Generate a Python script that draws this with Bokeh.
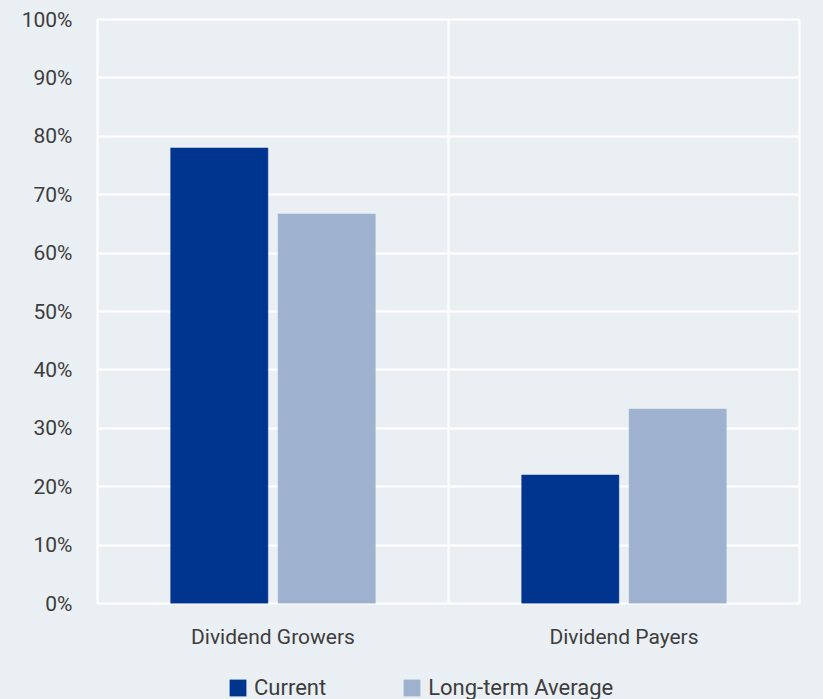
from bokeh.plotting import figure
from bokeh.layouts import column
from bokeh.models import FixedTicker, NumeralTickFormatter, Legend, LegendItem, Range1d
from bokeh.embed import file_html
from bokeh.resources import INLINE

# Share of stocks in each group
categories = ["Dividend Growers", "Dividend Payers"]
current = [0.78, 0.22]
long_term_average = [0.667, 0.333]
series_names = ["Current", "Long-term Average"]
y_ticks = [0.0, 0.1, 0.2, 0.3, 0.4, 0.5, 0.6, 0.7, 0.8, 0.9, 1.0]

BG = "#eaeff4"
DARK = "#00358f"
LIGHT = "#9eb2cf"
TEXT = "#3d3d3d"
FONT = "Roboto"

W = 823
LEGEND_H = 40

p = figure(
    width=W, height=699 - LEGEND_H,
    x_range=Range1d(0, len(categories)), y_range=Range1d(0, 1),
    output_backend="svg", toolbar_location=None,
    min_border_left=97, min_border_right=24, min_border_top=19, min_border_bottom=56,
)
p.background_fill_color = BG
p.border_fill_color = BG
# white frame edges stand in for the outer grid lines
p.outline_line_color = "white"
p.outline_line_width = 2

# bar geometry within each category slot
bar_w = 0.277
offset = 0.153
centers = [i + 0.5 for i in range(len(categories))]
x_cur = [c - offset for c in centers]
x_lta = [c + offset for c in centers]
p.vbar(x=x_cur, top=current, width=bar_w,
       fill_color=DARK, line_color=DARK, line_width=0.5)
p.vbar(x=x_lta, top=long_term_average, width=bar_w,
       fill_color=LIGHT, line_color=LIGHT, line_width=0.5)

# y axis: percent labels, no line or ticks
p.yaxis.ticker = FixedTicker(ticks=y_ticks)
p.yaxis.formatter = NumeralTickFormatter(format="0%")
p.yaxis.axis_line_color = None
p.yaxis.major_tick_line_color = None
p.yaxis.major_tick_out = 0
p.yaxis.minor_tick_line_color = None
p.yaxis.minor_tick_out = 0
p.yaxis.major_label_text_font = FONT
p.yaxis.major_label_text_font_size = "21px"
p.yaxis.major_label_text_color = TEXT
p.yaxis.major_label_standoff = 25

# x axis: category names centred in their slots
p.xaxis.ticker = FixedTicker(ticks=centers)
p.xaxis.major_label_overrides = {c: name for c, name in zip(centers, categories)}
p.xaxis.axis_line_color = None
p.xaxis.major_tick_line_color = None
p.xaxis.major_tick_out = 0
p.xaxis.minor_tick_line_color = None
p.xaxis.minor_tick_out = 0
p.xaxis.major_label_text_font = FONT
p.xaxis.major_label_text_font_size = "21px"
p.xaxis.major_label_text_color = TEXT
p.xaxis.major_label_standoff = 21

# white grid: horizontal at each tick, vertical between the slots
p.ygrid.ticker = FixedTicker(ticks=y_ticks)
p.ygrid.grid_line_color = "white"
p.ygrid.grid_line_width = 2
p.xgrid.ticker = FixedTicker(ticks=list(range(len(categories) + 1)))
p.xgrid.grid_line_color = "white"
p.xgrid.grid_line_width = 2

# legend strip underneath the chart; its swatches come from flat (zero-height)
# copies of the series, so nothing is visible in the strip besides the legend
q = figure(
    width=W, height=LEGEND_H, x_range=p.x_range, y_range=Range1d(0, 1),
    x_axis_type=None, y_axis_type=None,
    output_backend="svg", toolbar_location=None,
    min_border_left=97, min_border_right=24, min_border_top=0, min_border_bottom=0,
)
q.background_fill_alpha = 0
q.border_fill_color = BG
q.outline_line_color = None
q.grid.visible = False
k_cur = q.vbar(x=x_cur, bottom=current, top=current, width=bar_w,
               fill_color=DARK, line_color=None)
k_lta = q.vbar(x=x_lta, bottom=long_term_average, top=long_term_average, width=bar_w,
               fill_color=LIGHT, line_color=None)

legend = Legend(
    items=[LegendItem(label=series_names[0], renderers=[k_cur]),
           LegendItem(label=series_names[1], renderers=[k_lta])],
    orientation="horizontal",
    location=(130, -1),
    background_fill_alpha=0, border_line_color=None,
    padding=0, margin=0, spacing=75,
    glyph_width=21, glyph_height=21, label_standoff=6,
    label_text_font=FONT, label_text_font_size="22px", label_text_color=TEXT,
)
q.add_layout(legend, "center")

layout = column(p, q, spacing=0, styles={"background-color": BG})
open("out.html", "w").write(file_html(layout, INLINE))
